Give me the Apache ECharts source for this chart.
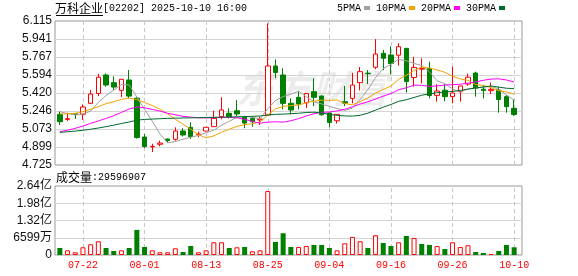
<!DOCTYPE html>
<html>
<head>
<meta charset="utf-8">
<script src="https://cdn.jsdelivr.net/npm/echarts@6.0.0/dist/echarts.min.js"></script>
<style>
html,body{margin:0;padding:0;background:#fff;}
#chart{width:578px;height:276px;}
</style>
</head>
<body>
<div id="chart"></div>
<script>
// ---- data ----
const dates = ['07-17','07-18','07-21','07-22','07-23','07-24','07-25','07-28','07-29','07-30',
  '07-31','08-01','08-04','08-05','08-06','08-07','08-08','08-11','08-12','08-13',
  '08-14','08-15','08-18','08-19','08-20','08-21','08-22','08-25','08-26','08-27',
  '08-28','08-29','09-01','09-02','09-03','09-04','09-05','09-08','09-09','09-10',
  '09-11','09-12','09-15','09-16','09-17','09-18','09-19','09-22','09-23','09-24',
  '09-25','09-26','09-29','09-30','10-02','10-03','10-06','10-08','10-09','10-10'];
const openP = [5.214,5.165,5.220,5.215,5.320,5.415,5.594,5.520,5.446,5.546,
  5.370,4.995,4.900,4.925,4.976,4.973,5.053,5.089,5.018,5.053,
  5.095,5.192,5.224,5.249,5.190,5.175,5.160,5.208,5.681,5.594,
  5.320,5.378,5.325,5.433,5.390,5.227,5.152,5.336,5.368,5.520,
  5.612,5.668,5.803,5.787,5.785,5.851,5.570,5.650,5.658,5.397,
  5.447,5.386,5.433,5.507,5.613,5.457,5.443,5.449,5.385,5.272];
const closeP = [5.143,5.172,5.212,5.285,5.410,5.572,5.497,5.477,5.552,5.390,
  4.990,4.903,4.905,4.937,4.960,5.053,5.015,5.000,5.025,5.089,
  5.175,5.256,5.192,5.217,5.130,5.143,5.168,5.681,5.617,5.320,
  5.256,5.314,5.415,5.378,5.210,5.135,5.214,5.322,5.497,5.626,
  5.606,5.796,5.755,5.705,5.867,5.530,5.667,5.658,5.396,5.439,
  5.385,5.420,5.488,5.572,5.465,5.443,5.455,5.357,5.288,5.212];
const lowP = [5.111,5.150,5.170,5.160,5.315,5.390,5.480,5.450,5.380,5.370,
  4.980,4.890,4.850,4.905,4.940,4.960,5.000,4.976,4.993,5.050,
  5.093,5.166,5.175,5.198,5.080,5.095,5.111,5.205,5.562,5.262,
  5.214,5.262,5.275,5.294,5.200,5.090,5.125,5.294,5.320,5.445,
  5.507,5.650,5.640,5.600,5.685,5.423,5.481,5.513,5.369,5.336,
  5.340,5.320,5.336,5.490,5.385,5.368,5.410,5.230,5.230,5.200];
const highP = [5.240,5.230,5.222,5.310,5.450,5.605,5.610,5.580,5.555,5.642,
  5.380,5.024,4.930,4.960,4.978,5.089,5.080,5.137,5.047,5.092,
  5.250,5.378,5.272,5.352,5.200,5.192,5.192,6.093,5.745,5.658,
  5.368,5.433,5.420,5.562,5.400,5.230,5.216,5.488,5.614,5.670,
  5.642,5.940,5.835,5.870,5.900,5.855,5.770,5.755,5.722,5.505,
  5.505,5.674,5.490,5.607,5.626,5.497,5.520,5.480,5.400,5.360];
const volumes = [26900000,17900000,10300000,29500000,41000000,52500000,26900000,15400000,17900000,26900000,
  96100000,30800000,17900000,10300000,10300000,25600000,11500000,34600000,10300000,17900000,
  48700000,48700000,26900000,29500000,30800000,14100000,17900000,244700000,50000000,83300000,
  30800000,30800000,34600000,38400000,38400000,26900000,17900000,44800000,69200000,52500000,
  26900000,75600000,46100000,34600000,48700000,73000000,65400000,42300000,38400000,34600000,
  23100000,48700000,30800000,37200000,11500000,7700000,3800000,15400000,38400000,29596907];
// moving-average values for days whose window starts before the first candle
const ma5Head = [5.240,5.221,5.208,5.217];
const ma10Head = [5.217,5.220,5.224,5.240,5.263,5.288,5.317,5.336,5.359];
const ma20Head = [5.047,5.060,5.079,5.101,5.127,5.150,5.175,5.201,5.233,5.265,
  5.285,5.277,5.262,5.245,5.224,5.210,5.195,5.187,5.180];
const ma30Head = [5.040,5.046,5.052,5.060,5.070,5.082,5.095,5.110,5.125,5.140,
  5.158,5.165,5.168,5.172,5.175,5.177,5.179,5.180,5.182,5.184,
  5.185,5.187,5.188,5.190,5.192,5.195,5.198,5.207,5.214];
const xLabelDates = ['07-22','08-01','08-13','08-25','09-04','09-16','09-26','10-10'];
const priceLabels = ['4.725','4.899','5.073','5.246','5.420','5.594','5.767','5.941','6.115'];
const volLabels = ['0','6599万','1.32亿','1.98亿','2.64亿'];
const priceMin = 4.725, priceMax = 6.115, priceStep = 0.17375;
const volMax = 263960000, volStep = 65990000;

// ---- build ----
function ma(period, head) {
  return closeP.map((c, i) => {
    if (i < period - 1) return head[i];
    let s = 0;
    for (let k = i - period + 1; k <= i; k++) s += closeP[k];
    return +(s / period).toFixed(4);
  });
}
const RED = '#ff0000', GREEN = '#008000';
const candleData = dates.map((d, i) => [openP[i], closeP[i], lowP[i], highP[i]]);
const volData = volumes.map((v, i) => {
  const prev = i > 0 ? closeP[i - 1] : openP[i];
  const up = closeP[i] >= prev;
  return { value: v, itemStyle: up ? { color: '#fff', borderColor: RED, borderWidth: 1 } : { color: GREEN, borderWidth: 0 } };
});
const vLines = {
  symbol: 'none', silent: true, z: 1, label: { show: false },
  lineStyle: { type: [4, 3], color: '#c8c8c8', width: 1 },
  emphasis: { disabled: true },
  data: xLabelDates.map(d => ({ xAxis: d }))
};
const mono = 'Liberation Mono, DejaVu Sans Mono, monospace';
const cjk = 'Noto Sans CJK SC, sans-serif';
const titleRich = {
  a: { fontFamily: cjk, fontSize: 12, fontWeight: 'normal', color: '#000' },
  b: { fontFamily: mono, fontSize: 10, fontWeight: 'normal', color: '#000' }
};

const chart = echarts.init(document.getElementById('chart'), null, { renderer: 'canvas' });
chart.setOption({
  animation: false,
  backgroundColor: '#fff',
  title: [
    { left: 55, top: 2, padding: 0,
      text: '{a|万科企业}{b|[02202] 2025-10-10 16:00}',
      textStyle: { fontWeight: 'normal', rich: titleRich } },
    { left: 56, top: 171, padding: 0,
      text: '{a|成交量}{b|:' + volumes[volumes.length - 1] + '}',
      textStyle: { fontWeight: 'normal', rich: titleRich } }
  ],
  legend: {
    data: ['5PMA', '10PMA', '20PMA', '30PMA'],
    left: 337, top: 3, padding: 0, align: 'right', icon: 'rect',
    itemWidth: 6, itemHeight: 4, itemGap: 6, selectedMode: false,
    textStyle: { fontFamily: mono, fontSize: 10, color: '#000', padding: [0, -2, 0, 0] }
  },
  graphic: [
    { type: 'line', silent: true, shape: { x1: 56, y1: 15.5, x2: 103, y2: 15.5 },
      style: { stroke: '#000', lineWidth: 1 } },
    { type: 'text', left: 236, top: 70, z: -10, silent: true,
      style: { text: '东方财富', fill: 'rgba(0,0,0,0.075)', font: 'italic bold 38px Noto Sans CJK SC' } }
  ],
  grid: [
    { left: 55, top: 21, width: 467, height: 144, show: true, borderColor: '#999', borderWidth: 1, backgroundColor: 'transparent' },
    { left: 56, top: 21, width: 462, height: 144 },
    { left: 55, top: 186, width: 467, height: 69, show: true, borderColor: '#999', borderWidth: 1, backgroundColor: 'transparent' },
    { left: 56, top: 186, width: 462, height: 69 }
  ],
  xAxis: [
    { gridIndex: 0, type: 'value', show: false, min: 0, max: 1 },
    { gridIndex: 1, type: 'category', data: dates, boundaryGap: true,
      axisLine: { show: false }, axisTick: { show: false }, axisLabel: { show: false }, splitLine: { show: false } },
    { gridIndex: 2, type: 'value', show: false, min: 0, max: 1 },
    { gridIndex: 3, type: 'category', data: dates, boundaryGap: true,
      axisLine: { show: false }, axisTick: { show: false }, splitLine: { show: false },
      axisLabel: { interval: (idx, val) => xLabelDates.includes(val), color: RED, fontFamily: mono, fontSize: 10, margin: 5, hideOverlap: false } }
  ],
  yAxis: [
    { gridIndex: 0, type: 'value', min: priceMin, max: priceMax, interval: priceStep,
      axisLine: { show: false }, axisTick: { show: false }, axisLabel: { show: false },
      splitLine: { show: true, showMinLine: false, showMaxLine: false, lineStyle: { color: '#d4d4d4', width: 1 } } },
    { gridIndex: 1, type: 'value', min: priceMin, max: priceMax, interval: priceStep,
      axisLine: { show: false }, axisTick: { show: false }, splitLine: { show: false },
      axisLabel: { margin: 4, color: '#111', fontFamily: 'Liberation Sans, Arial, sans-serif', fontSize: 12,
        formatter: v => priceLabels[Math.round((v - priceMin) / priceStep)] } },
    { gridIndex: 2, type: 'value', min: 0, max: volMax, interval: volStep,
      axisLine: { show: false }, axisTick: { show: false }, axisLabel: { show: false },
      splitLine: { show: true, showMinLine: false, showMaxLine: false, lineStyle: { color: '#d4d4d4', width: 1 } } },
    { gridIndex: 3, type: 'value', min: 0, max: volMax, interval: volStep,
      axisLine: { show: false }, axisTick: { show: false }, splitLine: { show: false },
      axisLabel: { margin: 4, color: '#111', fontFamily: 'Liberation Sans, Noto Sans CJK SC, sans-serif', fontSize: 12,
        formatter: v => volLabels[Math.round(v / volStep)] } }
  ],
  series: [
    { type: 'candlestick', name: 'K', xAxisIndex: 1, yAxisIndex: 1, data: candleData, barWidth: 5,
      itemStyle: { color: '#fff', color0: GREEN, borderColor: RED, borderColor0: GREEN, borderWidth: 1 },
      emphasis: { disabled: true }, markLine: vLines },
    { type: 'line', name: '5PMA', xAxisIndex: 1, yAxisIndex: 1, data: ma(5, ma5Head), color: '#a0a0a0',
      symbol: 'none', lineStyle: { width: 1, color: '#a0a0a0' }, z: 3, emphasis: { disabled: true } },
    { type: 'line', name: '10PMA', xAxisIndex: 1, yAxisIndex: 1, data: ma(10, ma10Head), color: '#f5a300',
      symbol: 'none', lineStyle: { width: 1, color: '#f5a300' }, z: 3, emphasis: { disabled: true } },
    { type: 'line', name: '20PMA', xAxisIndex: 1, yAxisIndex: 1, data: ma(20, ma20Head), color: '#ff00ff',
      symbol: 'none', lineStyle: { width: 1, color: '#ff00ff' }, z: 3, emphasis: { disabled: true } },
    { type: 'line', name: '30PMA', xAxisIndex: 1, yAxisIndex: 1, data: ma(30, ma30Head), color: '#006b2c',
      symbol: 'none', lineStyle: { width: 1, color: '#006b2c' }, z: 3, emphasis: { disabled: true } },
    { type: 'bar', name: 'VOL', xAxisIndex: 3, yAxisIndex: 3, data: volData, barWidth: 5,
      emphasis: { disabled: true }, markLine: vLines }
  ]
});
</script>
</body>
</html>
